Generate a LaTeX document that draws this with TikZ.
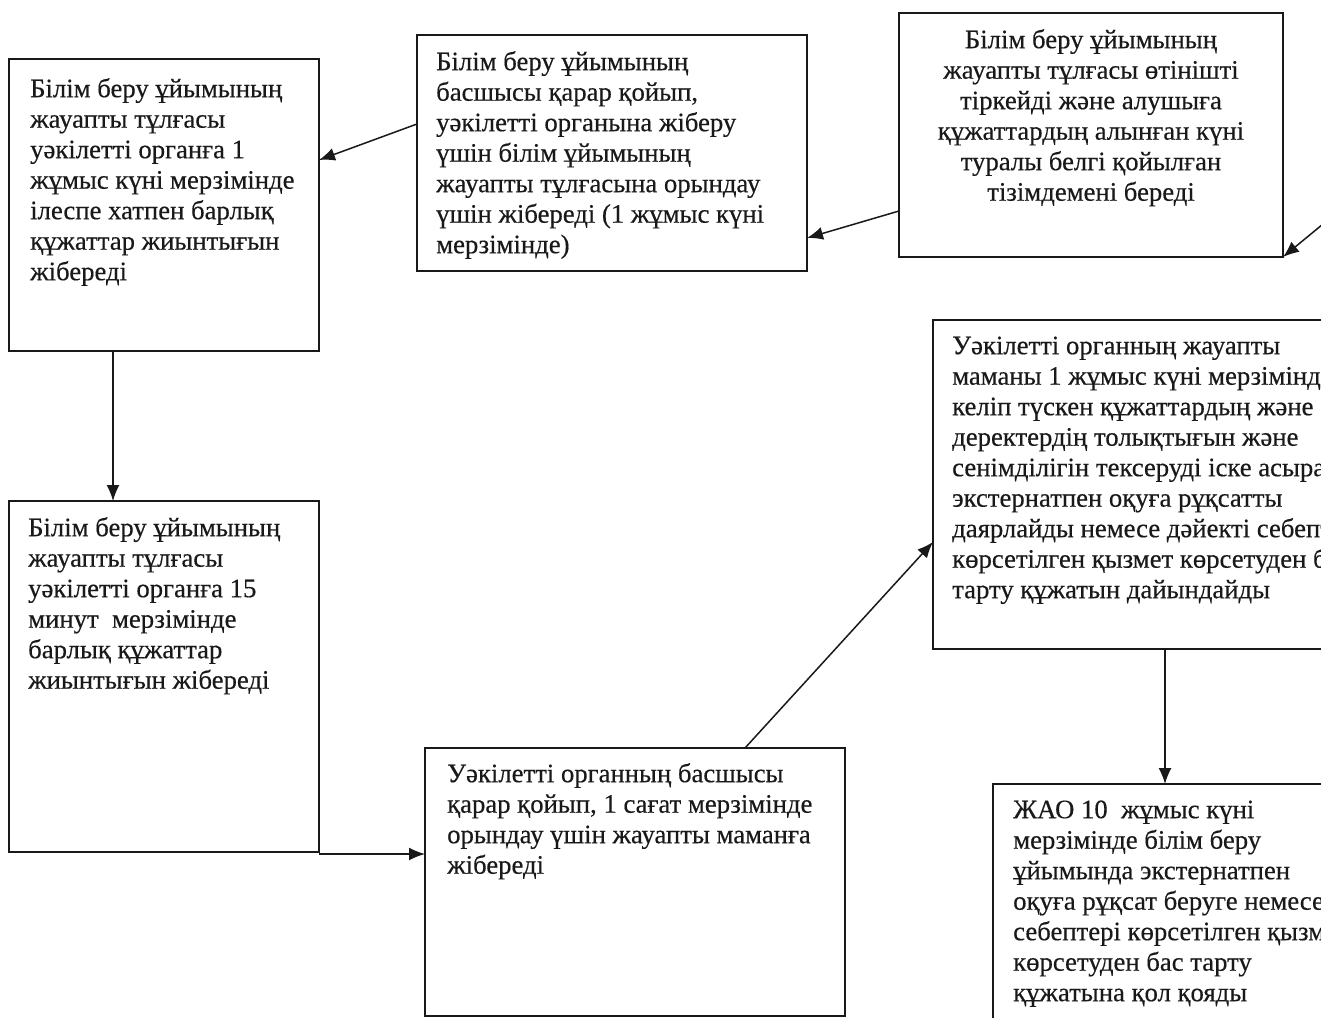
\documentclass[tikz,border=0pt]{standalone}
\usepackage{fontspec}
\setmainfont{Liberation Serif}[FakeBold=0.4]
\usetikzlibrary{arrows.meta}
\newcommand{\fl}{\rule{0pt}{24pt}}
\tikzset{
  box/.style={draw=black!90, line width=1.6pt, anchor=north west, inner sep=0pt, outer sep=0pt},
  txt/.style={anchor=north west, inner sep=0pt, align=left, font=\fontsize{26.7}{30.5}\selectfont, text=black!90},
  ctxt/.style={anchor=north, inner sep=0pt, align=center, font=\fontsize{26.7}{30.5}\selectfont, text=black!90},
  arr/.style={draw=black!90, line width=1.5pt, -{Latex[length=16pt,width=13pt]}}
}
\begin{document}
\begin{tikzpicture}[x=1pt,y=-1pt]
\useasboundingbox (0,0) rectangle (1321,1017);
\clip (0,0) rectangle (1321,1017);
% boxes
\node[box, minimum width=310pt, minimum height=292pt] (A) at (9,59) {};
\node[box, minimum width=390pt, minimum height=236pt] (B) at (417,35) {};
\node[box, minimum width=384pt, minimum height=244pt] (C) at (899,13) {};
\node[box, minimum width=430pt, minimum height=329pt] (D) at (933,320) {};
\node[box, minimum width=310pt, minimum height=351pt] (E) at (9,501) {};
\node[box, minimum width=420pt, minimum height=268pt] (F) at (425,748) {};
\node[box, minimum width=400pt, minimum height=260pt] (G) at (993,784) {};
% texts
\node[txt] (tA) at (30,73) {\fl Білім беру ұйымының\\жауапты тұлғасы\\уәкілетті органға 1\\жұмыс күні мерзімінде\\ілеспе хатпен барлық\\құжаттар жиынтығын\\жібереді};
\node[txt] (tB) at (436,46) {\fl Білім беру ұйымының\\басшысы қарар қойып,\\уәкілетті органына жіберу\\үшін білім ұйымының\\жауапты тұлғасына орындау\\үшін жібереді (1 жұмыс күні\\мерзімінде)};
\node[ctxt] (tC) at (1091,24) {\fl Білім беру ұйымының\\жауапты тұлғасы өтінішті\\тіркейді және алушыға\\құжаттардың алынған күні\\туралы белгі қойылған\\тізімдемені береді};
\node[txt] (tD) at (952,330) {\fl Уәкілетті органның жауапты\\маманы 1 жұмыс күні мерзімінде\\келіп түскен құжаттардың және\\деректердің толықтығын және\\сенімділігін тексеруді іске асырады,\\экстернатпен оқуға рұқсатты\\даярлайды немесе дәйекті себептері\\көрсетілген қызмет көрсетуден бас\\тарту құжатын дайындайды};
\node[txt] (tE) at (28,512) {\fl Білім беру ұйымының\\жауапты тұлғасы\\уәкілетті органға 15\\минут\ \ мерзімінде\\барлық құжаттар\\жиынтығын жібереді};
\node[txt] (tF) at (447,758) {\fl Уәкілетті органның басшысы\\қарар қойып, 1 сағат мерзімінде\\орындау үшін жауапты маманға\\жібереді};
\node[txt] (tG) at (1013,794) {\fl ЖАО 10\ \ жұмыс күні\\мерзімінде білім беру\\ұйымында экстернатпен\\оқуға рұқсат беруге немесе\\себептері көрсетілген қызмет\\көрсетуден бас тарту\\құжатына қол қояды};
% connectors
\coordinate (in1) at (1340,210);
\draw[arr] (in1) -- (C.south east);
\draw[arr] ([yshift=46pt]C.south west) -- ([yshift=33pt]B.south east);
\draw[arr] ([yshift=-89pt]B.north west) -- ([yshift=-101pt]A.north east);
\draw[arr] ([xshift=104pt]A.south west) -- ([xshift=104pt]E.north west);
\draw[arr] ([yshift=-2pt]E.south east) -- ([yshift=-106pt]F.north west);
\draw[arr] ([xshift=320pt]F.north west) -- ([yshift=-222pt]D.north west);
\draw[arr] ([xshift=232pt]D.south west) -- ([xshift=172pt]G.north west);
\end{tikzpicture}
\end{document}
